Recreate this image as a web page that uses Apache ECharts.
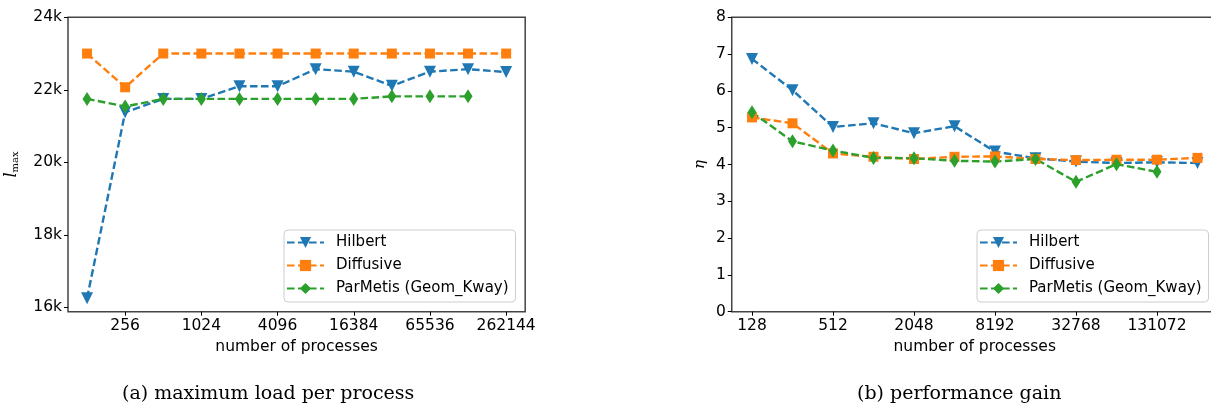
<!DOCTYPE html>
<html lang="en">
  <head>
    <meta charset="UTF-8" />
    <title>load and performance gain</title>
    <script src="https://cdn.jsdelivr.net/npm/echarts@6/dist/echarts.min.js"></script>
    <style>
      * {
        margin: 0;
        padding: 0;
      }
      body {
        overflow: hidden;
        background: #fff;
      }
    </style>
  </head>
  <body>
    <div id="charts" style="width: 1225px; height: 410px"></div>
    <script>
      var procs = ["128", "256", "512", "1024", "2048", "4096", "8192", "16384", "32768", "65536", "131072", "262144"];
      var names = ["Hilbert", "Diffusive", "ParMetis (Geom_Kway)"];

      // (a) maximum load per process
      var hilbertLoad = [16250, 21380, 21750, 21750, 22100, 22100, 22570, 22500, 22110, 22500, 22570, 22490];
      var diffusiveLoad = [23000, 22070, 23000, 23000, 23000, 23000, 23000, 23000, 23000, 23000, 23000, 23000];
      var parmetisLoad = [21750, 21540, 21750, 21750, 21750, 21750, 21750, 21750, 21820, 21820, 21820];
      var loadTicks = [16000, 18000, 20000, 22000, 24000];

      // (b) performance gain
      var hilbertGain = [6.87, 6.02, 5.02, 5.12, 4.85, 5.04, 4.35, 4.17, 4.08, 4.04, 4.06, 4.04];
      var diffusiveGain = [5.28, 5.12, 4.3, 4.21, 4.15, 4.21, 4.22, 4.15, 4.12, 4.13, 4.13, 4.18];
      var parmetisGain = [5.42, 4.63, 4.38, 4.18, 4.17, 4.1, 4.08, 4.15, 3.53, 4.01, 3.8];

      var colors = ["#1f77b4", "#ff7f0e", "#2ca02c"];
      var symbols = ["triangle", "rect", "diamond"];
      var symbolSizes = [12, 10, [9, 14]];
      var symbolRotates = [180, 0, 0];

      var sans = "DejaVu Sans";
      var tickFont = { fontFamily: sans, fontSize: 15.5, color: "#000" };

      function makeSeries(values, idx, axisIdx) {
        return {
          name: names[idx],
          type: "line",
          xAxisIndex: axisIdx,
          yAxisIndex: axisIdx,
          data: values,
          symbol: symbols[idx],
          symbolSize: symbolSizes[idx],
          symbolRotate: symbolRotates[idx],
          showAllSymbol: true,
          animation: false,
          color: colors[idx],
          lineStyle: { width: 2.4, type: [7.6, 3.4], color: colors[idx] },
          itemStyle: { color: colors[idx] },
        };
      }

      function makeX(gridIdx, odd) {
        return {
          type: "category",
          gridIndex: gridIdx,
          data: procs,
          boundaryGap: true,
          axisLine: { show: false },
          axisTick: {
            show: true,
            length: 4,
            alignWithLabel: true,
            interval: function (i) {
              return i % 2 === odd;
            },
            lineStyle: { color: "#000" },
          },
          axisLabel: Object.assign({}, tickFont, {
            margin: 6,
            interval: function (i) {
              return i % 2 === odd;
            },
          }),
          name: "number of processes",
          nameLocation: "middle",
          nameGap: 23,
          nameTextStyle: tickFont,
          splitLine: { show: false },
        };
      }

      function makeLegend(left) {
        return {
          left: left,
          top: 230,
          orient: "vertical",
          data: names,
          itemWidth: 37,
          itemHeight: 14,
          itemGap: 8,
          padding: [5, 7, 6, 2],
          borderColor: "#ccc",
          borderWidth: 1,
          borderRadius: 4,
          backgroundColor: "rgba(255,255,255,0.8)",
          textStyle: { fontFamily: sans, fontSize: 15, color: "#000", padding: [0, 0, 0, 7] },
        };
      }

      var myEcharts = echarts.init(document.getElementById("charts"));
      var options = {
        animation: false,
        grid: [
          { left: 68, top: 17.3, width: 457.2, height: 294.4, show: true, borderColor: "#444", borderWidth: 1.5 },
          { left: 731.75, top: 17.3, width: 486, height: 294.4, show: true, borderColor: "#444", borderWidth: 1.5 },
        ],
        xAxis: [makeX(0, 1), makeX(1, 0)],
        yAxis: [
          {
            type: "value",
            gridIndex: 0,
            min: 15880,
            max: 24000,
            axisLine: { show: false },
            splitLine: { show: false },
            axisTick: { show: true, length: 4, customValues: loadTicks, lineStyle: { color: "#000" } },
            axisLabel: Object.assign({}, tickFont, {
              margin: 6,
              customValues: loadTicks,
              formatter: function (v) {
                return v / 1000 + "k";
              },
            }),
            name: "{l|l}{m|max}",
            nameLocation: "middle",
            nameGap: 48,
            nameTextStyle: {
              rich: {
                l: { fontFamily: "DejaVu Serif", fontStyle: "italic", fontSize: 16, color: "#000" },
                m: { fontFamily: "DejaVu Serif", fontSize: 10, color: "#000", padding: [7, 0, 0, 0] },
              },
            },
          },
          {
            type: "value",
            gridIndex: 1,
            min: 0,
            max: 8,
            interval: 1,
            axisLine: { show: false },
            splitLine: { show: false },
            axisTick: { show: true, length: 4, lineStyle: { color: "#000" } },
            axisLabel: Object.assign({}, tickFont, { margin: 6 }),
            name: "η",
            nameLocation: "middle",
            nameGap: 24,
            nameRotate: 90,
            nameTextStyle: { fontFamily: "DejaVu Serif", fontStyle: "italic", fontSize: 15, color: "#000" },
          },
        ],
        legend: [makeLegend(284), makeLegend(977)],
        graphic: [
          {
            type: "text",
            left: 122,
            top: 385,
            style: { text: "(a) maximum load per process", font: '19px "DejaVu Serif"', fill: "#000" },
          },
          {
            type: "text",
            left: 857,
            top: 385,
            style: { text: "(b) performance gain", font: '19px "DejaVu Serif"', fill: "#000" },
          },
        ],
        series: [
          makeSeries(hilbertLoad, 0, 0),
          makeSeries(diffusiveLoad, 1, 0),
          makeSeries(parmetisLoad, 2, 0),
          makeSeries(hilbertGain, 0, 1),
          makeSeries(diffusiveGain, 1, 1),
          makeSeries(parmetisGain, 2, 1),
        ],
      };
      myEcharts.setOption(options);
    </script>
  </body>
</html>
